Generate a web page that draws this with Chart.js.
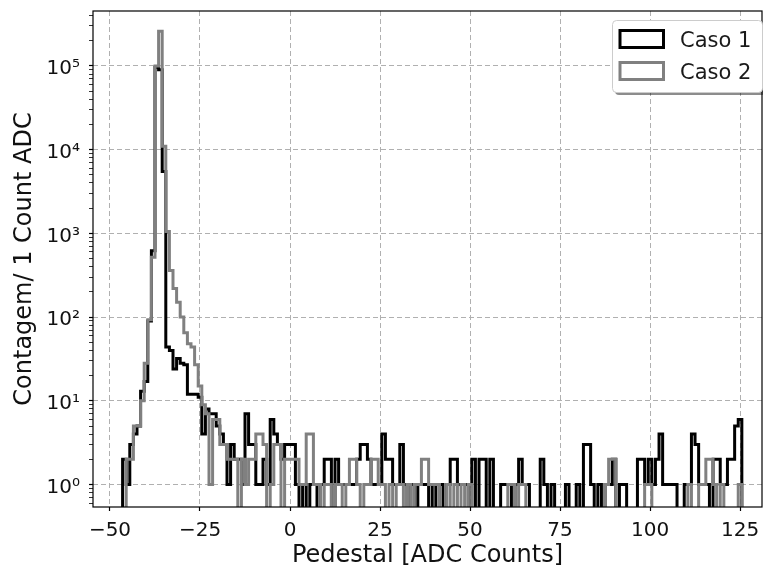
<!DOCTYPE html>
<html>
<head>
<meta charset="utf-8">
<script src="https://cdn.jsdelivr.net/npm/chart.js@4.4.1/dist/chart.umd.min.js"></script>
<style>
  html, body { margin: 0; padding: 0; background: #fff; }
  #wrap { width: 763px; height: 566px; }
</style>
</head>
<body>
<div id="wrap"><canvas id="hist" width="763" height="566"></canvas></div>
<script>
// pedestal histogram, 1 ADC count per bin, bins centred on integers
const firstBin = -46;

const caso1 = [
  2, 1, 3, 4, 5, 13, 17, 90, 620, 96000,
  90000, 5500, 44, 40, 24, 32, 28, 27, 12, 12,
  12, 11, 4, 8, 7, 7, 5, 4, 3, 1,
  3, 2, 2, 1, 7, 3, 3, 1, 1, 2,
  1, 6, 4, 3, 2, 3, 3, 3, 1, 0,
  1, 0, 1, 1, 0, 1, 2, 2, 0, 2,
  1, 1, 1, 1, 1, 2, 3, 3, 2, 1,
  1, 1, 4, 2, 2, 1, 1, 3, 1, 0,
  1, 0, 1, 1, 1, 0, 1, 0, 1, 0,
  1, 2, 2, 1, 1, 1, 0, 2, 0, 2,
  2, 0, 2, 0, 0, 1, 1, 1, 0, 1,
  2, 1, 1, 0, 0, 0, 2, 1, 0, 1,
  0, 0, 0, 1, 0, 0, 1, 0, 3, 3,
  1, 0, 1, 0, 1, 1, 2, 0, 1, 1,
  0, 0, 0, 2, 2, 1, 2, 1, 2, 4,
  1, 1, 1, 1, 0, 0, 1, 1, 4, 3,
  1, 1, 1, 0, 2, 2, 1, 1, 2, 2,
  5, 6
];

const caso2 = [
  0, 2, 2, 5, 5, 10, 28, 93, 520, 100000,
  260000, 11000, 1050, 360, 220, 150, 100, 65, 48, 44,
  27, 15, 9, 7, 1, 6, 6, 3, 3, 2,
  2, 2, 0, 2, 1, 2, 2, 4, 4, 3,
  0, 1, 3, 3, 0, 2, 2, 2, 2, 1,
  1, 4, 4, 1, 1, 0, 1, 1, 0, 1,
  1, 0, 1, 2, 2, 1, 0, 1, 1, 2,
  2, 1, 1, 0, 1, 0, 1, 1, 0, 1,
  0, 1, 1, 2, 2, 1, 1, 1, 0, 0,
  1, 0, 1, 0, 1, 0, 1, 0, 0, 0,
  0, 0, 0, 0, 0, 0, 0, 1, 1, 0,
  1, 1, 0, 0, 0, 0, 0, 0, 0, 0,
  0, 0, 0, 0, 0, 0, 0, 0, 0, 0,
  0, 0, 0, 0, 1, 2, 2, 0, 0, 0,
  0, 0, 0, 0, 0, 1, 1, 0, 0, 0,
  0, 0, 0, 0, 0, 0, 0, 1, 0, 0,
  1, 1, 2, 2, 1, 0, 1, 0, 0, 0,
  0, 1
];

const xTicks = [-50, -25, 0, 25, 50, 75, 100, 125];
const yTickLabels = ['10⁰', '10¹', '10²', '10³', '10⁴', '10⁵'];

const FONT = "'DejaVu Sans', sans-serif";

// outline of a step histogram: up at the first edge, across each bin, down at the last edge
function stepPoints(counts) {
  const floor = 0.1; // empty bins fall below the axis and get clipped
  const pts = [{ x: firstBin - 0.5, y: floor }];
  counts.forEach((c, i) => pts.push({ x: firstBin + i - 0.5, y: c > 0 ? c : floor }));
  pts.push({ x: firstBin + counts.length - 0.5, y: floor });
  return pts;
}

function isDecade(v) {
  const e = Math.round(Math.log10(v));
  return Math.abs(v - Math.pow(10, e)) < 1e-9 * Math.pow(10, e);
}

// box around the plot area
const frame = {
  id: 'frame',
  afterDatasetsDraw(chart) {
    const { ctx, chartArea: a } = chart;
    ctx.save();
    ctx.strokeStyle = '#000';
    ctx.lineWidth = 1.2;
    ctx.strokeRect(a.left, a.top, a.right - a.left, a.bottom - a.top);
    ctx.restore();
  }
};

// legend box in the upper right corner
const boxLegend = {
  id: 'boxLegend',
  afterDraw(chart) {
    const ctx = chart.ctx;
    const x = 612, y = 20, w = 150, h = 72, r = 4;
    ctx.save();
    ctx.fillStyle = 'rgba(0,0,0,0.45)';
    ctx.beginPath();
    ctx.roundRect(x + 3, y + 3, w, h, r);
    ctx.fill();
    ctx.fillStyle = '#fff';
    ctx.strokeStyle = '#cccccc';
    ctx.lineWidth = 1;
    ctx.beginPath();
    ctx.roundRect(x + 0.5, y + 0.5, w, h, r);
    ctx.fill();
    ctx.stroke();

    ctx.font = '21px ' + FONT;
    ctx.textBaseline = 'alphabetic';
    chart.data.datasets.forEach((ds, i) => {
      const ry = 30.5 + i * 32;
      ctx.lineWidth = 3;
      ctx.strokeStyle = ds.borderColor;
      ctx.fillStyle = '#fff';
      ctx.fillRect(620, ry, 43.5, 17);
      ctx.strokeRect(620, ry, 43.5, 17);
      ctx.fillStyle = '#1a1a1a';
      ctx.fillText(ds.label, 680, ry + 16);
    });
    ctx.restore();
  }
};

new Chart(document.getElementById('hist'), {
  type: 'line',
  data: {
    datasets: [
      {
        label: 'Caso 1',
        data: stepPoints(caso1),
        borderColor: '#000000',
        order: 1
      },
      {
        label: 'Caso 2',
        data: stepPoints(caso2),
        borderColor: '#808080',
        order: 0
      }
    ]
  },
  options: {
    responsive: false,
    animation: false,
    devicePixelRatio: 1,
    layout: { padding: { left: 0, right: 1, top: 11, bottom: 0 } },
    elements: {
      line: { borderWidth: 3, stepped: true, tension: 0, fill: false, borderJoinStyle: 'miter', borderCapStyle: 'butt' },
      point: { radius: 0, hoverRadius: 0 }
    },
    plugins: {
      legend: { display: false },
      tooltip: { enabled: false }
    },
    scales: {
      x: {
        type: 'linear',
        min: -54.72,
        max: 131.1,
        bounds: 'data',
        afterBuildTicks: (scale) => { scale.ticks = xTicks.map(v => ({ value: v })); },
        afterFit: (scale) => {
          scale.height = 59;
          scale.paddingLeft = 0; scale.paddingRight = 0;
        },
        grid: { color: '#b0b0b0', lineWidth: 1, tickColor: '#000', tickLength: 4, tickWidth: 1.2 },
        border: { display: false, dash: [5, 3] },
        ticks: {
          autoSkip: false, maxRotation: 0, padding: 8,
          color: '#111', font: { family: FONT, size: 20 },
          callback: (v) => String(v).replace('-', '\u2212')
        },
        title: {
          display: true,
          text: 'Pedestal [ADC Counts]',
          color: '#111',
          font: { family: FONT, size: 24, lineHeight: 1 },
          padding: { top: 0, bottom: -2 }
        }
      },
      y: {
        type: 'logarithmic',
        min: 0.539,
        max: 4.53e5,
        bounds: 'data',
        afterBuildTicks: (scale) => {
          const ticks = [];
          for (let e = -1; e <= 5; e++) {
            for (let m = 1; m <= 9; m++) {
              const v = m * Math.pow(10, e);
              if (v >= scale.min && v <= scale.max) ticks.push({ value: v, major: m === 1 });
            }
          }
          scale.ticks = ticks;
        },
        afterFit: (scale) => {
          scale.width = 93;
          scale.paddingTop = 0; scale.paddingBottom = 0;
        },
        grid: {
          color: (c) => isDecade(c.tick.value) ? '#b0b0b0' : 'rgba(0,0,0,0)',
          lineWidth: 1,
          tickColor: '#000',
          tickLength: 4,
          tickWidth: (c) => isDecade(c.tick.value) ? 1.2 : 0.8
        },
        border: { display: false, dash: [5, 3] },
        ticks: {
          autoSkip: false, padding: 9, labelOffset: 3,
          color: '#111', font: { family: FONT, size: 20 },
          callback: (v) => isDecade(v) ? yTickLabels[Math.round(Math.log10(v))] : ''
        },
        title: {
          display: true,
          text: 'Contagem/ 1 Count ADC',
          color: '#111',
          font: { family: FONT, size: 24, lineHeight: 1 },
          padding: { top: 13, bottom: 0 }
        }
      }
    }
  },
  plugins: [frame, boxLegend]
});
</script>
</body>
</html>
